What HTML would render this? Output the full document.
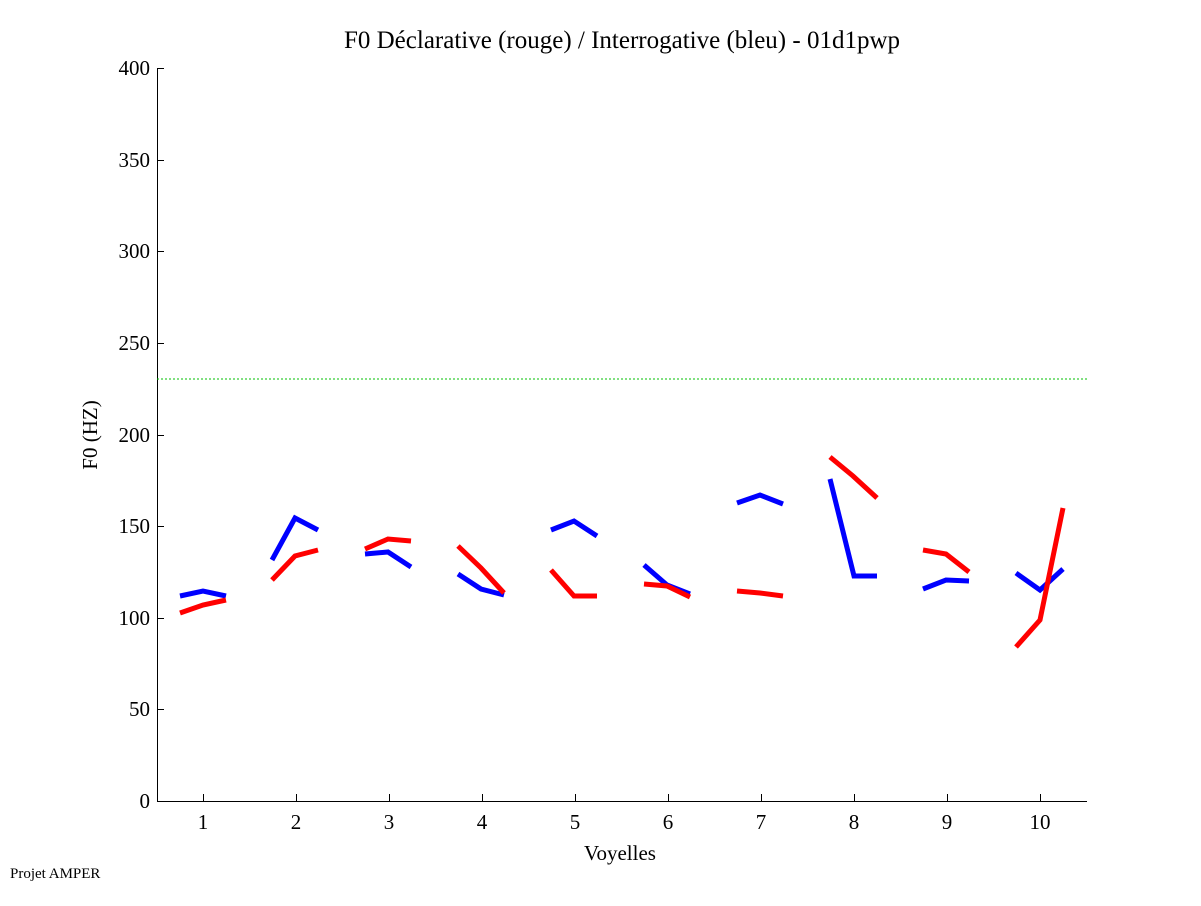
<!DOCTYPE html>
<html><head><meta charset="utf-8"><style>body{margin:0;background:#fff}svg text{font-family:"Liberation Serif",serif;fill:#000}</style></head><body>
<svg width="1201" height="901" xmlns="http://www.w3.org/2000/svg">
<rect width="1201" height="901" fill="#fff"/>
<text x="622" y="48" font-size="25" text-anchor="middle">F0 Déclarative (rouge) / Interrogative (bleu) - 01d1pwp</text>
<g stroke="#000" stroke-width="1" fill="none">
<line x1="157.5" y1="68" x2="157.5" y2="801"/>
<line x1="157" y1="801.5" x2="1087" y2="801.5"/>
<line x1="157" y1="68.5" x2="164" y2="68.5"/>
<line x1="157" y1="160.5" x2="164" y2="160.5"/>
<line x1="157" y1="251.5" x2="164" y2="251.5"/>
<line x1="157" y1="343.5" x2="164" y2="343.5"/>
<line x1="157" y1="435.5" x2="164" y2="435.5"/>
<line x1="157" y1="526.5" x2="164" y2="526.5"/>
<line x1="157" y1="618.5" x2="164" y2="618.5"/>
<line x1="157" y1="709.5" x2="164" y2="709.5"/>
<line x1="203.5" y1="801" x2="203.5" y2="794"/><line x1="296.5" y1="801" x2="296.5" y2="794"/><line x1="389.5" y1="801" x2="389.5" y2="794"/><line x1="482.5" y1="801" x2="482.5" y2="794"/><line x1="575.5" y1="801" x2="575.5" y2="794"/><line x1="668.5" y1="801" x2="668.5" y2="794"/><line x1="761.5" y1="801" x2="761.5" y2="794"/><line x1="854.5" y1="801" x2="854.5" y2="794"/><line x1="947.5" y1="801" x2="947.5" y2="794"/><line x1="1040.5" y1="801" x2="1040.5" y2="794"/>
</g>
<g font-size="21" text-anchor="end">
<text x="150" y="75">400</text><text x="150" y="167">350</text><text x="150" y="258">300</text><text x="150" y="350">250</text><text x="150" y="442">200</text><text x="150" y="533">150</text><text x="150" y="625">100</text><text x="150" y="716">50</text><text x="150" y="808">0</text>
</g>
<g font-size="21" text-anchor="middle">
<text x="203" y="829">1</text><text x="296" y="829">2</text><text x="389" y="829">3</text><text x="482" y="829">4</text><text x="575" y="829">5</text><text x="668" y="829">6</text><text x="761" y="829">7</text><text x="854" y="829">8</text><text x="947" y="829">9</text><text x="1040" y="829">10</text>
<text x="620" y="860">Voyelles</text>
<text transform="translate(97,435) rotate(-90)">F0 (HZ)</text>
</g>
<text x="10" y="878" font-size="15">Projet AMPER</text>
<line x1="157" y1="379" x2="1087" y2="379" stroke="#00c000" stroke-width="1" stroke-dasharray="2,2"/>
<g fill="none" stroke="#0000ff" stroke-width="5">
<polyline points="180,596 203,591 226,596"/>
<polyline points="272,560 295,518 318,530"/>
<polyline points="365,554 388,552 411,567"/>
<polyline points="458,574 481,589 504,595"/>
<polyline points="551,530 574,521 597,536"/>
<polyline points="644,565 667,585 690,594"/>
<polyline points="737,503 760,495 783,504"/>
<polyline points="830,479 854,576 877,576"/>
<polyline points="923,589 946,580 969,581"/>
<polyline points="1016,573 1040,590 1063,569"/>
</g>
<g fill="none" stroke="#ff0000" stroke-width="5">
<polyline points="180,613 203,605 226,600"/>
<polyline points="272,580 295,556 318,550"/>
<polyline points="365,549 388,539 411,541"/>
<polyline points="458,546 481,568 504,593"/>
<polyline points="551,570 574,596 597,596"/>
<polyline points="644,584 667,586 690,597"/>
<polyline points="737,591 760,593 783,596"/>
<polyline points="830,457 853,476 877,498"/>
<polyline points="923,550 946,554 969,572"/>
<polyline points="1016,647 1040,620 1063,508"/>
</g>
</svg>
</body></html>
